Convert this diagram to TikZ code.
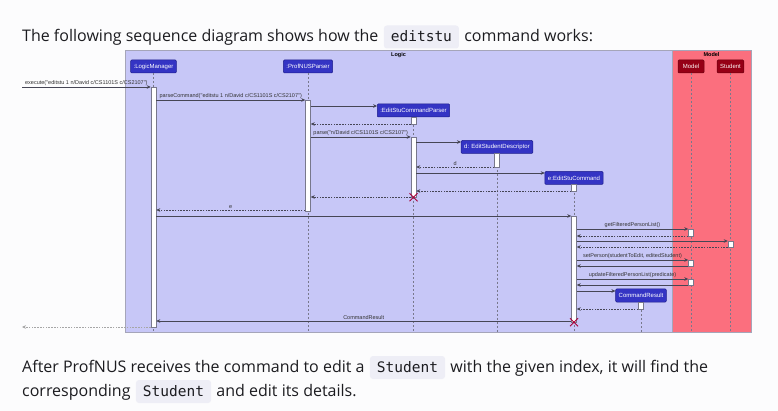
\documentclass[tikz,border=0pt]{standalone}
\usepackage{fontspec}
\setmainfont{Open Sans}
\newfontfamily\umlfont{Liberation Sans}
\newfontfamily\codefont{DejaVu Sans Mono}
\usetikzlibrary{arrows.meta,positioning}
\definecolor{pagebg}{RGB}{252,252,253}
\definecolor{bodyink}{RGB}{28,28,32}
\definecolor{chipbg}{RGB}{238,238,246}
\definecolor{logicfill}{RGB}{199,199,247}
\definecolor{modelfill}{RGB}{251,111,126}
\definecolor{frameline}{RGB}{165,165,185}
\definecolor{partblue}{RGB}{52,52,196}
\definecolor{partblueedge}{RGB}{30,30,140}
\definecolor{partred}{RGB}{150,0,22}
\definecolor{partrededge}{RGB}{110,0,15}
\definecolor{msgink}{RGB}{70,70,85}
\definecolor{lifeink}{RGB}{120,120,140}
\definecolor{killred}{RGB}{168,0,54}

\begin{document}
\begin{tikzpicture}[x=1pt, y=-1pt,
    bodytext/.style={font=\fontsize{16}{19}\selectfont, text=bodyink, inner sep=0pt},
    codechip/.style={font=\codefont\fontsize{14.5}{17}\selectfont, text=bodyink,
      fill=chipbg, rounded corners=3pt, inner xsep=7pt, inner ysep=0pt,
      text height=11pt, text depth=2pt, minimum height=23pt},
    part/.style={draw=partblueedge, fill=partblue, text=white, line width=0.5pt,
      font=\umlfont\fontsize{6}{7}\selectfont, minimum height=13pt,
      inner xsep=3pt, inner ysep=0pt, rounded corners=1pt},
    modelpart/.style={part, draw=partrededge, fill=partred, text=white!85!pink,
      minimum width=26pt},
    act/.style={draw=lifeink, fill=white, line width=0.5pt, minimum width=5pt,
      inner sep=0pt},
    lifeline/.style={draw=lifeink, line width=0.45pt, dash pattern=on 2pt off 2pt},
    msg/.style={draw=msgink, line width=0.55pt, -{Stealth[length=4pt, width=3.6pt]}},
    ret/.style={msg, dash pattern=on 1.6pt off 1.2pt},
    lbl/.style={midway, above, inner sep=1.2pt, text=black!80,
      font=\umlfont\fontsize{5.5}{6}\selectfont},
    kill/.style={draw=killred, line width=0.8pt}]

  \useasboundingbox (0,0) rectangle (778,411);
  \fill[pagebg] (0,0) rectangle (778,411);

  % ── Lifeline x positions ────────────────────────────────────────────
  \def\xLM{153.5}   % LogicManager
  \def\xPP{308}     % ProfNUSParser
  \def\xECP{413.5}  % EditStuCommandParser
  \def\xEDD{497}    % EditStudentDescriptor
  \def\xEC{574}     % EditStuCommand
  \def\xCR{641}     % CommandResult
  \def\xMo{691}     % Model
  \def\xSt{730.5}   % Student

  % ── Page text ───────────────────────────────────────────────────────
  \node[bodytext, anchor=base west] (introA) at (22,41.5)
    {The following sequence diagram shows how the};
  \node[codechip, anchor=base west] (introCode) at ([xshift=5pt]introA.base east) {editstu};
  \node[bodytext, anchor=base west] (introB) at ([xshift=5pt]introCode.base east)
    {command works:};

  \node[bodytext, anchor=base west] (afterA) at (22,372)
    {After ProfNUS receives the command to edit a};
  \node[codechip, anchor=base west] (afterCode) at ([xshift=5pt]afterA.base east) {Student};
  \node[bodytext, anchor=base west] (afterB) at ([xshift=5pt]afterCode.base east)
    {with the given index, it will find the};
  \node[bodytext, anchor=base west] (corrA) at (22,396) {corresponding};
  \node[codechip, anchor=base west] (corrCode) at ([xshift=5pt]corrA.base east) {Student};
  \node[bodytext, anchor=base west] (corrB) at ([xshift=5pt]corrCode.base east)
    {and edit its details.};

  % ── Boxes ───────────────────────────────────────────────────────────
  \filldraw[fill=logicfill, draw=frameline, line width=0.6pt] (125,50) rectangle (672,332);
  \filldraw[fill=modelfill, draw=frameline, line width=0.6pt] (672,50) rectangle (751,332);
  \node[font=\umlfont\bfseries\fontsize{5.5}{6}\selectfont, inner sep=0pt] (logicLbl)
    at (398.5,55) {Logic};
  \node[font=\umlfont\bfseries\fontsize{5.5}{6}\selectfont, inner sep=0pt] (modelLbl)
    at (711.5,55) {Model};
  \coordinate (bot) at (0,332);

  % ── Participants ────────────────────────────────────────────────────
  \node[part] (lm)  at (\xLM,66.5)  {:LogicManager};
  \node[part] (pp)  at (\xPP,66.5)  {:ProfNUSParser};
  \node[part] (ecp) at (\xECP,110.5) {:EditStuCommandParser};
  \node[part] (edd) at (\xEDD,147)  {d: EditStudentDescriptor};
  \node[part] (ec)  at (\xEC,178)   {e:EditStuCommand};
  \node[part] (cr)  at (\xCR,295.5) {CommandResult};
  \node[modelpart] (mo) at (\xMo,66.5) {Model};
  \node[modelpart] (st) at (\xSt,66.5) {Student};

  \foreach \p in {lm, pp, ecp, edd, ec, cr, mo, st} {
    \draw[lifeline] (\p.south) -- (\p.south |- bot);
  }

  % ── Activations ─────────────────────────────────────────────────────
  \node[act, minimum height=240pt] (lmA)  at (\xLM,207)   {};
  \node[act, minimum height=111pt] (ppA)  at (\xPP,155.5) {};
  \node[act, minimum height=7pt]   (ecpA1) at (\xECP,120.5) {};
  \node[act, minimum height=60pt]  (ecpA2) at (\xECP,167)  {};
  \node[act, minimum height=14pt]  (eddA) at (\xEDD,160)  {};
  \node[act, minimum height=7pt]   (ecA1) at (\xEC,187.5) {};
  \node[act, minimum height=106pt] (ecA2) at (\xEC,269)   {};
  \node[act, minimum height=7pt]   (moA1) at (\xMo,232.5) {};
  \node[act, minimum height=6pt]   (stA)  at (\xSt,244)   {};
  \node[act, minimum height=6pt]   (moA2) at (\xMo,263)   {};
  \node[act, minimum height=6pt]   (moA3) at (\xMo,282)   {};
  \node[act, minimum height=7pt]   (crA)  at (\xCR,305.5) {};

  % ── Message rows ────────────────────────────────────────────────────
  \foreach \n/\yy in {1/87, 2/100, 3/106, 4/124, 5/137, 6/142, 7/167, 8/173,
      9/191, 10/197, 11/210, 12/216, 13/229, 14/236, 15/241, 16/247, 17/260,
      18/266, 19/279, 20/285, 21/291, 22/309, 23/321, 24/327} {
    \coordinate (r\n) at (0,\yy);
  }
  \coordinate (caller) at (22,87);
  \coordinate (callerEnd) at (22,327);

  % ── Parsing ─────────────────────────────────────────────────────────
  \draw[msg] (caller) -- (lmA.west |- r1)
    node[lbl] {execute("editstu 1 n/David c/CS1101S c/CS2107")};
  \draw[msg] (lmA.east |- r2) -- (ppA.west |- r2)
    node[lbl] {parseCommand("editstu 1 n/David c/CS1101S c/CS2107")};
  \draw[msg] (ppA.east |- r3) -- (ecp.west |- r3);
  \draw[ret] (ecpA1.west |- r4) -- (ppA.east |- r4);
  \draw[msg] (ppA.east |- r5) -- (ecpA2.west |- r5)
    node[lbl] {parse("n/David c/CS1101S c/CS2107")};
  \draw[msg] (ecpA2.east |- r6) -- (edd.west |- r6);
  \draw[ret] (eddA.west |- r7) -- (ecpA2.east |- r7) node[lbl] {d};
  \draw[msg] (ecpA2.east |- r8) -- (ec.west |- r8);
  \draw[ret] (ecA1.west |- r9) -- (ecpA2.east |- r9);
  \draw[ret] (ecpA2.west |- r10) -- (ppA.east |- r10);
  \draw[ret] (ppA.west |- r11) -- (lmA.east |- r11) node[lbl] {e};

  % ── Execution ───────────────────────────────────────────────────────
  \draw[msg] (lmA.east |- r12) -- (ecA2.west |- r12);
  \draw[msg] (ecA2.east |- r13) -- (moA1.west |- r13) node[lbl] {getFilteredPersonList()};
  \draw[ret] (moA1.west |- r14) -- (ecA2.east |- r14);
  \draw[msg] (ecA2.east |- r15) -- (stA.west |- r15);
  \draw[ret] (stA.west |- r16) -- (ecA2.east |- r16);
  \draw[msg] (ecA2.east |- r17) -- (moA2.west |- r17)
    node[lbl] {setPerson(studentToEdit, editedStudent)};
  \draw[msg] (moA2.west |- r18) -- (ecA2.east |- r18);
  \draw[msg] (ecA2.east |- r19) -- (moA3.west |- r19)
    node[lbl] {updateFilteredPersonList(predicate)};
  \draw[msg] (moA3.west |- r20) -- (ecA2.east |- r20);
  \draw[msg] (ecA2.east |- r21) -- (cr.west |- r21);
  \draw[ret] (crA.west |- r22) -- (ecA2.east |- r22);
  \draw[msg] (ecA2.west |- r23) -- (lmA.east |- r23) node[lbl] {CommandResult};
  \draw[ret, draw=black!35] (lmA.west |- r24) -- (callerEnd);

  % ── Destroyed objects ───────────────────────────────────────────────
  \foreach \a in {ecpA2, ecA2} {
    \draw[kill] (\a.south) ++(-4,-4) -- ++(8,8) (\a.south) ++(-4,4) -- ++(8,-8);
  }

\end{tikzpicture}
\end{document}
